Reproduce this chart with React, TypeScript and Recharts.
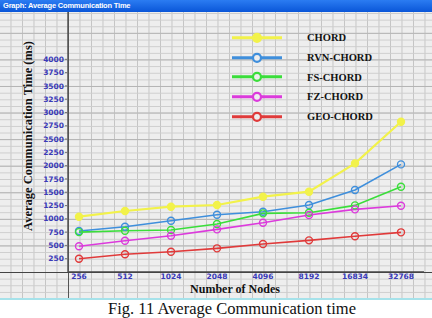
import React from 'react';
import { LineChart, Line, XAxis, YAxis, Legend } from 'recharts';

const categories = ['256', '512', '1024', '2048', '4096', '8192', '16834', '32768'];
const chord = [1040, 1147, 1228, 1260, 1416, 1510, 2043, 2826];
const rvnChord = [770, 852, 965, 1077, 1134, 1260, 1542, 2024];
const fsChord = [750, 777, 790, 902, 1103, 1115, 1253, 1604];
const fzChord = [483, 589, 683, 802, 927, 1072, 1178, 1247];
const geoChord = [250, 333, 382, 445, 526, 595, 671, 746];
const yTicks = [250, 500, 750, 1000, 1250, 1500, 1750, 2000, 2250, 2500, 2750, 3000, 3250, 3500, 3750, 4000];

const seriesNames = ['CHORD', 'RVN-CHORD', 'FS-CHORD', 'FZ-CHORD', 'GEO-CHORD'];
const seriesColors = ['#f2f24a', '#3f8fdc', '#3ade3a', '#dc3adc', '#e03a3a'];
const seriesValues = [chord, rvnChord, fsChord, fzChord, geoChord];

const data = categories.map((c, i) => {
  const row: Record<string, string | number> = { nodes: c };
  seriesNames.forEach((n, k) => {
    row[n] = seriesValues[k][i];
  });
  return row;
});

const tickBlue = '#3a3ab8';

const renderLegend = (props: any) => {
  const payload = [...(props.payload || [])].sort(
    (a: any, b: any) => seriesNames.indexOf(a.value) - seriesNames.indexOf(b.value)
  );
  return (
    <div>
      {payload.map((entry: any) => (
        <div key={entry.value} style={{ display: 'flex', alignItems: 'center', height: 19.7 }}>
          <svg width={56} height={19.7} style={{ display: 'block' }}>
            <line x1={4} x2={54} y1={9.85} y2={9.85} stroke={entry.color} strokeWidth={3} />
            <circle cx={29} cy={9.85} r={4} stroke={entry.color} strokeWidth={2.2} fill={entry.value === 'CHORD' ? entry.color : '#eeeeee'} />
          </svg>
          <span
            style={{
              marginLeft: 23,
              fontFamily: '"Liberation Serif", serif',
              fontWeight: 'bold',
              fontSize: 10.5,
              color: '#111',
              whiteSpace: 'nowrap',
            }}
          >
            {entry.value}
          </span>
        </div>
      ))}
    </div>
  );
};

const YLabel = (props: any) => {
  const vb = props.viewBox || { x: 0, y: 0, width: 0, height: 0 };
  const cx = 28;
  const cy = vb.y + vb.height / 2 - 6;
  return (
    <text
      x={cx}
      y={cy}
      transform={`rotate(-90, ${cx}, ${cy})`}
      textAnchor="middle"
      dominantBaseline="central"
      style={{ fontFamily: '"Liberation Serif", serif', fontWeight: 'bold', fontSize: 12.5, fill: '#111' }}
    >
      Average Communication Time (ms)
    </text>
  );
};

const XLabel = (props: any) => {
  const vb = props.viewBox || { x: 0, y: 0, width: 0, height: 0 };
  const cx = vb.x + vb.width / 2 - 11;
  return (
    <text
      x={cx}
      y={vb.y + 21}
      textAnchor="middle"
      style={{ fontFamily: '"Liberation Serif", serif', fontWeight: 'bold', fontSize: 12, fill: '#111' }}
    >
      Number of Nodes
    </text>
  );
};

export default function App() {
  const gridBg: React.CSSProperties = {
    position: 'absolute',
    left: 0,
    top: 12,
    width: 432,
    height: 287,
    backgroundColor: '#eeeeee',
    backgroundImage: [
      'linear-gradient(to bottom, #b4b4b4 1px, transparent 1px)',
      'linear-gradient(to bottom, #cdcdcd 1px, transparent 1px)',
      'linear-gradient(to right, #c4c4c4 1px, transparent 1px)',
    ].join(','),
    backgroundSize: '100% 26.58px, 100% 6.645px, 11.5px 100%',
    backgroundPosition: '0 260px, 0 260px, 68px 0',
  };
  return (
    <div
      style={{
        position: 'absolute',
        left: 0,
        top: 0,
        width: 432,
        height: 318,
        overflow: 'hidden',
        background: '#ffffff',
      }}
    >
      <div
        style={{
          position: 'absolute',
          left: 0,
          top: 0,
          width: 432,
          height: 12,
          background: 'linear-gradient(to bottom, #2b7cf2, #0a56d8)',
          color: '#ffffff',
          fontFamily: '"Liberation Sans", sans-serif',
          fontWeight: 'bold',
          fontSize: 7.5,
          letterSpacing: -0.2,
          lineHeight: '12px',
          paddingLeft: 3,
          whiteSpace: 'nowrap',
          boxSizing: 'border-box',
        }}
      >
        Graph: Average Communication Time
      </div>
      <div style={gridBg} />
      <div style={{ position: 'absolute', left: 67.5, top: 12, width: 1.5, height: 287, background: '#555' }} />
      <div style={{ position: 'absolute', left: 0, top: 271.5, width: 432, height: 1.5, background: '#444' }} />
      <div style={{ position: 'absolute', left: 0, top: 298, width: 432, height: 2, background: '#a6e2ea' }} />
      <div
        style={{
          position: 'absolute',
          left: 0,
          top: 300,
          width: 464,
          textAlign: 'center',
          fontFamily: '"Liberation Serif", serif',
          fontSize: 16.5,
          lineHeight: '17px',
          color: '#111',
          whiteSpace: 'nowrap',
        }}
      >
        Fig. 11 Average Communication time
      </div>
      <div style={{ position: 'absolute', left: 0, top: 0 }}>
        <LineChart width={432} height={300} data={data} margin={{ top: 12, right: 8, bottom: 0, left: 0 }}>
          <XAxis
            dataKey="nodes"
            interval={0}
            padding={{ left: 11, right: 23 }}
            height={28}
            axisLine={{ stroke: '#444', strokeWidth: 1.5 }}
            tickLine={false}
            tickSize={0}
            tickMargin={2}
            tick={{ fontSize: 7.5, fontWeight: 'bold', fill: tickBlue, fontFamily: '"DejaVu Sans", sans-serif' }}
            label={<XLabel />}
          />
          <YAxis
            width={68}
            domain={[0, 4890]}
            ticks={yTicks}
            interval={0}
            axisLine={{ stroke: '#555', strokeWidth: 1.5 }}
            tickLine={{ stroke: '#777' }}
            tickSize={3}
            tickMargin={1}
            tick={{ fontSize: 7.5, fontWeight: 'bold', fill: tickBlue, fontFamily: '"DejaVu Sans", sans-serif' }}
            label={<YLabel />}
          />
          <Legend
            layout="horizontal"
            verticalAlign="middle"
            align="center"
            content={renderLegend}
            wrapperStyle={{ position: 'absolute', top: 28, left: 228, width: 170 }}
          />
          {seriesNames.map((n, k) => (
            <Line
              key={n}
              type="linear"
              dataKey={n}
              name={n}
              stroke={seriesColors[k]}
              strokeWidth={k === 0 ? 2.2 : 1.6}
              dot={{ r: 3.5, strokeWidth: 1.4, stroke: seriesColors[k], fill: k === 0 ? seriesColors[k] : 'none' }}
              isAnimationActive={false}
            />
          ))}
        </LineChart>
      </div>
    </div>
  );
}
